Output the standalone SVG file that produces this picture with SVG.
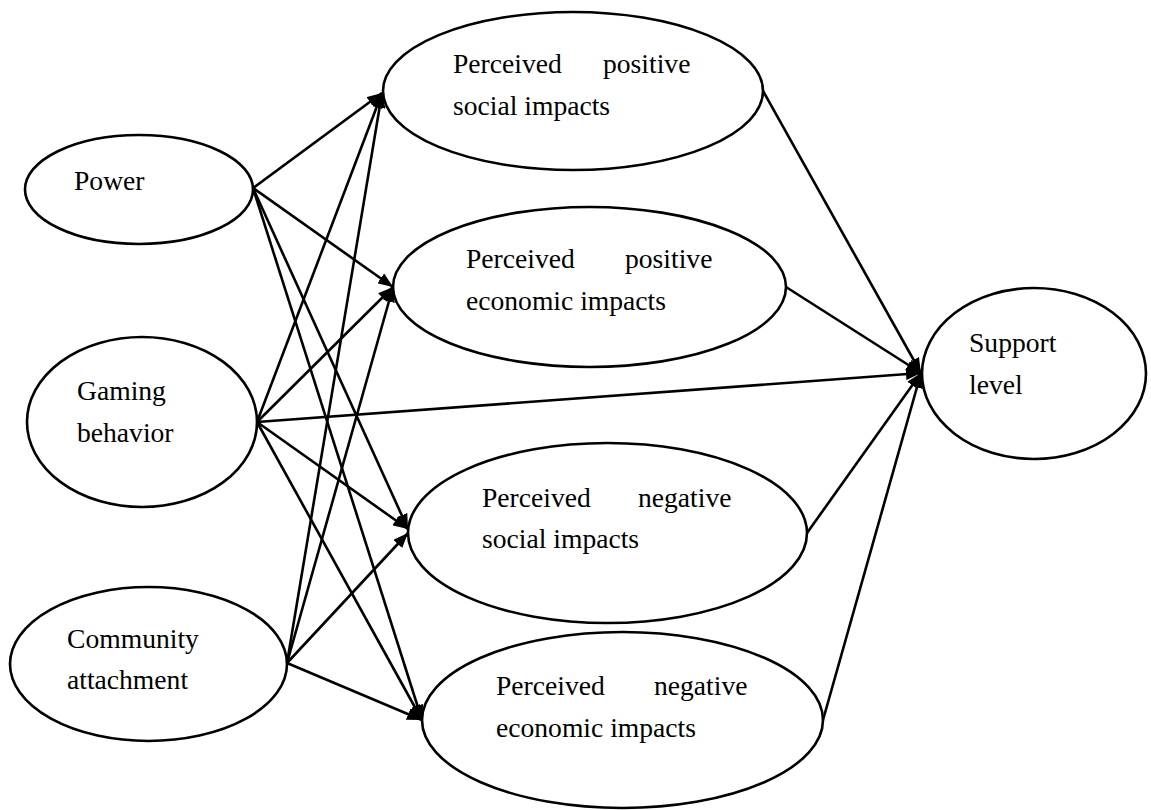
<svg xmlns="http://www.w3.org/2000/svg" width="1151" height="810" viewBox="0 0 1151 810">
<style>
.n{fill:#fff;stroke:#000;stroke-width:2.6}
.t{font-family:"Liberation Serif","Times New Roman",serif;font-size:27.6px;fill:#000}
.c line{stroke:#000;stroke-width:2.6;marker-end:url(#ah)}
</style>
<defs>
<marker id="ah" markerUnits="userSpaceOnUse" markerWidth="16" markerHeight="12" refX="15" refY="6" orient="auto">
<path d="M0,0 L15,6 L0,12 Z" fill="#000"/>
</marker>
</defs>
<rect width="1151" height="810" fill="#fff"/>
<g id="power"><ellipse class="n" cx="139" cy="189.5" rx="114" ry="54.5"/><text class="t" x="74" y="190">Power</text></g>
<g id="gaming"><ellipse class="n" cx="142" cy="422" rx="115" ry="85"/><text class="t" x="77" y="400">Gaming</text><text class="t" x="77" y="442">behavior</text></g>
<g id="community"><ellipse class="n" cx="148.5" cy="664" rx="138.5" ry="77"/><text class="t" x="67" y="648">Community</text><text class="t" x="67" y="689">attachment</text></g>
<g id="ppsi"><ellipse class="n" cx="573" cy="91" rx="190" ry="79"/><text class="t" x="453" y="73">Perceived</text><text class="t" x="603" y="73">positive</text><text class="t" x="453" y="115">social impacts</text></g>
<g id="ppei"><ellipse class="n" cx="589.5" cy="287" rx="196.5" ry="80"/><text class="t" x="466" y="268">Perceived</text><text class="t" x="625" y="268">positive</text><text class="t" x="466" y="310">economic impacts</text></g>
<g id="pnsi"><ellipse class="n" cx="607.5" cy="533" rx="199.5" ry="90"/><text class="t" x="482" y="507">Perceived</text><text class="t" x="638" y="507">negative</text><text class="t" x="482" y="548">social impacts</text></g>
<g id="pnei"><ellipse class="n" cx="622.5" cy="720" rx="200.5" ry="88"/><text class="t" x="496" y="695">Perceived</text><text class="t" x="654" y="695">negative</text><text class="t" x="496" y="737">economic impacts</text></g>
<g id="support"><ellipse class="n" cx="1034" cy="373.5" rx="112" ry="85.5"/><text class="t" x="969" y="352">Support</text><text class="t" x="969" y="394">level</text></g>
<g id="connectors" class="c">
<line x1="253" y1="188" x2="382" y2="93"/>
<line x1="253" y1="188" x2="393" y2="287"/>
<line x1="253" y1="188" x2="408" y2="529"/>
<line x1="253" y1="188" x2="422" y2="720"/>
<line x1="257" y1="422" x2="382" y2="93"/>
<line x1="257" y1="422" x2="393" y2="287"/>
<line x1="257" y1="422" x2="921" y2="373"/>
<line x1="257" y1="422" x2="408" y2="529"/>
<line x1="257" y1="422" x2="422" y2="720"/>
<line x1="287" y1="663" x2="382" y2="93"/>
<line x1="287" y1="663" x2="393" y2="287"/>
<line x1="287" y1="663" x2="408" y2="533"/>
<line x1="287" y1="663" x2="422" y2="720"/>
<line x1="763" y1="91" x2="921" y2="373"/>
<line x1="786" y1="287" x2="921" y2="373"/>
<line x1="807" y1="533" x2="921" y2="373"/>
<line x1="823" y1="720" x2="921" y2="373"/>
</g>
</svg>
